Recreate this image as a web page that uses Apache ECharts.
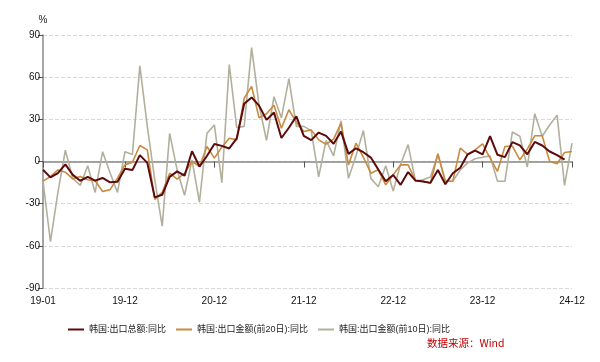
<!DOCTYPE html>
<html>
<head>
<meta charset="utf-8">
<script src="https://cdn.jsdelivr.net/npm/echarts@6/dist/echarts.min.js"></script>
<style>
html,body{margin:0;padding:0;background:#fff;}
#c{width:600px;height:362px;}
</style>
</head>
<body>
<div id="c"></div>
<script>
var months = [
"19-01","19-02","19-03","19-04","19-05","19-06","19-07","19-08","19-09","19-10","19-11","19-12",
"20-01","20-02","20-03","20-04","20-05","20-06","20-07","20-08","20-09","20-10","20-11","20-12",
"21-01","21-02","21-03","21-04","21-05","21-06","21-07","21-08","21-09","21-10","21-11","21-12",
"22-01","22-02","22-03","22-04","22-05","22-06","22-07","22-08","22-09","22-10","22-11","22-12",
"23-01","23-02","23-03","23-04","23-05","23-06","23-07","23-08","23-09","23-10","23-11","23-12",
"24-01","24-02","24-03","24-04","24-05","24-06","24-07","24-08","24-09","24-10","24-11","24-12"];

var tickLabels = ["19-01","19-12","20-12","21-12","22-12","23-12","24-12"];

var seriesNames = ["韩国:出口总额:同比","韩国:出口金额(前20日):同比","韩国:出口金额(前10日):同比"];

var exportTotal = [
-5.9,-11.3,-8.2,-2.0,-9.5,-13.7,-11.0,-13.6,-11.7,-14.8,-14.4,-5.2,
-6.1,4.5,-1.0,-25.5,-23.7,-10.9,-7.0,-10.1,7.3,-3.6,3.9,12.4,
11.1,9.3,16.4,41.1,45.6,39.7,29.6,34.9,16.7,24.0,32.1,18.3,
15.2,20.6,18.2,12.6,21.3,5.4,9.4,6.6,2.8,-5.7,-14.0,-9.6,
-16.6,-7.5,-13.6,-14.2,-15.2,-6.0,-16.2,-8.4,-4.4,5.1,7.8,5.1,
18.0,4.8,3.1,13.8,11.5,5.1,13.9,11.4,7.1,4.6,1.4,null];

var export20d = [
-14,-10.7,-6,-7.6,-12.3,-10.7,-13,-13.7,-21.3,-20,-11.8,-2.4,
-0.5,11.4,8.3,-27,-22,-8.3,-12.5,-8.3,0,-3.5,10.7,2.4,
10.2,16.6,15.4,45,53.4,31,34,40,23.7,36.8,28,21.4,
22.5,15.4,12.3,15.9,27.3,-2.4,13,3,-8.3,-5.9,-16.6,-9.5,
-2.4,-2.4,-13.7,-14,-15.4,5.5,-14,-14,9.5,5,8.3,12.6,
2.4,-7,10.7,11,1.2,8.8,18.3,18.3,0,-1.6,6.4,7.1];

var export10d = [
-14,-57,-22,8,-12,-17,-3,-22,7,-8,-22,7,
5,68,25,-13,-46,20,-6,-24,1,-29,20,26,
-15,69,24,25,81,40,15,46,31,59,25,25,
22,-11,15,4,29,-12,4,22,-12,-18,-3,-21,
-2,12,-14,-13,-11,5,-14,-14,-6,-1,2,3,
4,-14,-14,21,18,-4,34,18,26,33,-17,13];

var colors = ["#5c0a0e","#c88a3e","#b2b09d"];
var widths = [2, 1.6, 1.6];
var dataSets = [exportTotal, export20d, export10d];

var FONT = '"Liberation Sans", Arial, "Noto Sans CJK SC", sans-serif';
function isTick(i){ return tickLabels.indexOf(months[i]) >= 0; }

var chart = echarts.init(document.getElementById('c'), null, {renderer:'canvas'});
chart.setOption({
  animation:false,
  backgroundColor:'#fff',
  textStyle:{fontFamily:FONT},
  grid:{left:43, right:28, top:35, bottom:74, containLabel:false},
  legend:{
    left:63, top:320, itemWidth:16, itemHeight:2, itemGap:10,
    icon:'rect',
    textStyle:{fontSize:9, color:'#222', fontFamily:FONT},
    data:seriesNames
  },
  graphic:[{
    type:'text', left:427, top:338,
    style:{text:'数据来源：Wind', fill:'#c00000', font:'10.5px "Noto Sans CJK SC", sans-serif'}
  }],
  xAxis:{
    type:'category', data:months, boundaryGap:false,
    axisLine:{lineStyle:{color:'#888', width:1.5}},
    axisTick:{show:true, length:6, interval:function(i){return isTick(i);}, lineStyle:{color:'#555'}},
    axisLabel:{interval:function(i){return isTick(i);}, fontSize:10, color:'#111', margin:8, fontFamily:FONT},
    splitLine:{show:false}
  },
  yAxis:{
    type:'value', min:-90, max:90, interval:30,
    name:'%', nameLocation:'end', nameGap:10,
    nameTextStyle:{fontSize:10, color:'#222', align:'center'},
    axisLine:{show:true, lineStyle:{color:'#888', width:1.5}},
    axisTick:{show:true, length:5, lineStyle:{color:'#555'}},
    axisLabel:{fontSize:10, color:'#111', margin:3, fontFamily:FONT},
    splitLine:{show:true, lineStyle:{color:'#d9d9d9', type:'dashed'}}
  },
  series: seriesNames.map(function(n, k){
    return {
      name:n, type:'line', data:dataSets[k], showSymbol:false, symbol:'none',
      lineStyle:{color:colors[k], width:widths[k]}, itemStyle:{color:colors[k]},
      z: 10 - k
    };
  })
});
</script>
</body>
</html>
